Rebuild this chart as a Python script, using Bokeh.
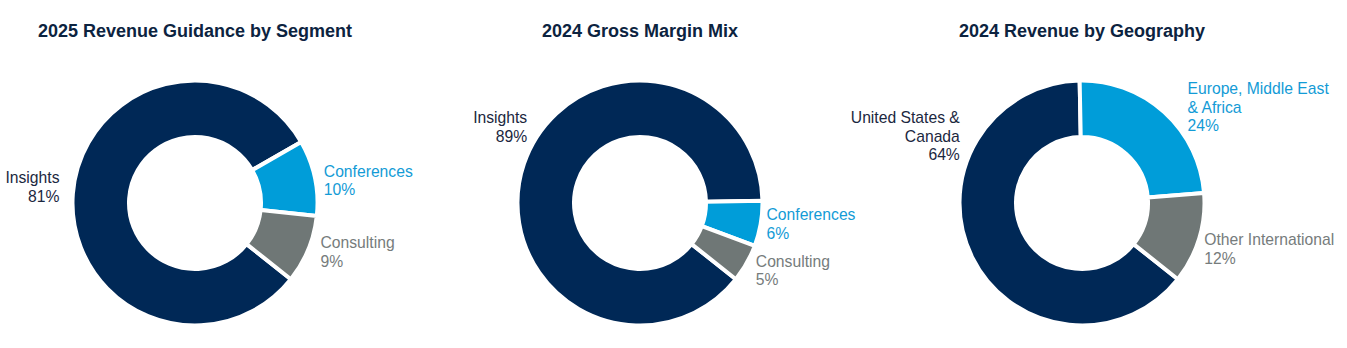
import numpy as np
from bokeh.plotting import figure
from bokeh.models import Range1d, ColumnDataSource
from bokeh.embed import file_html
from bokeh.resources import INLINE
from bokeh.core.properties import value

# ---------------- data ----------------
titles = ["2025 Revenue Guidance by Segment", "2024 Gross Margin Mix", "2024 Revenue by Geography"]
segment_cats = ["Insights", "Conferences", "Consulting"]
guidance_2025 = [81, 10, 9]
gross_margin_2024 = [89, 6, 5]
geo_cats = ["United States &\nCanada", "Europe, Middle East\n& Africa", "Other International"]
geo_revenue_2024 = [64, 24, 12]

# ---------------- style / layout ----------------
W, H = 1347, 348
NAVY, BLUE, GRAY = "#002856", "#009DD9", "#6F7776"
slice_colors = [NAVY, BLUE, GRAY]
label_colors = ["#1B2740", "#139BD6", "#767C7C"]
TITLE_COLOR = "#0C2340"
FONT = "Liberation Sans"
START_DEG = -38.5          # clockwise start of first slice
R_OUT, R_IN, GAP = 122.5, 66.0, 4
LINE_STEP = 18.5
TEXT_DY = -6.0             # baseline correction for svg text

charts = [
    dict(title=titles[0], cats=segment_cats, vals=guidance_2025, c=(194.5, 202.5),
         anchors=[(59, 183.3, "right"), (323.3, 176.7, "left"), (320, 248.3, "left")]),
    dict(title=titles[1], cats=segment_cats, vals=gross_margin_2024, c=(639.5, 202.5),
         anchors=[(526.7, 123.3, "right"), (766, 220, "left"), (755.3, 266.7, "left")]),
    dict(title=titles[2], cats=geo_cats, vals=geo_revenue_2024, c=(1081.5, 202.5),
         anchors=[(959.3, 123.3, "right"), (1187, 94.3, "left"), (1203.7, 245, "left")]),
]

p = figure(width=W, height=H, x_range=Range1d(0, W), y_range=Range1d(0, H),
           output_backend="svg", toolbar_location=None,
           x_axis_location=None, y_axis_location=None, min_border=0)
p.grid.visible = False
p.outline_line_color = None
p.background_fill_color = "white"
p.border_fill_color = "white"

def Y(py):
    return H - py

for ch in charts:
    vals = np.array(ch["vals"], dtype=float)
    frac = vals / vals.sum()
    cum = np.concatenate([[0], np.cumsum(frac)])
    start = np.radians(START_DEG)
    a_from = start - cum[:-1] * 2 * np.pi
    a_to = start - cum[1:] * 2 * np.pi
    cx, cy = ch["c"]
    src = ColumnDataSource(dict(x=[cx] * len(vals), y=[Y(cy)] * len(vals),
                                s=list(a_to), e=list(a_from), color=slice_colors[:len(vals)]))
    p.annular_wedge(x="x", y="y", inner_radius=R_IN, outer_radius=R_OUT,
                    inner_radius_units="screen", outer_radius_units="screen",
                    start_angle="s", end_angle="e", fill_color="color",
                    line_color="white", line_width=GAP, source=src)
    # title
    p.text(x=[cx], y=[Y(36.7 + TEXT_DY)], text=[ch["title"]], text_font=value(FONT),
           text_font_size=value("18px"), text_font_style="bold", text_color=TITLE_COLOR,
           text_align="center", text_baseline="alphabetic")
    # labels
    for i, (cat, v) in enumerate(zip(ch["cats"], ch["vals"])):
        lines = cat.split("\n") + [f"{v}%"]
        ax, ay, al = ch["anchors"][i]
        p.text(x=[ax] * len(lines),
               y=[Y(ay + TEXT_DY + k * LINE_STEP) for k in range(len(lines))],
               text=lines, text_font=value(FONT), text_font_size=value("15.7px"),
               text_color=label_colors[i], text_align=al, text_baseline="alphabetic")

open("out.html", "w").write(file_html(p, INLINE))
